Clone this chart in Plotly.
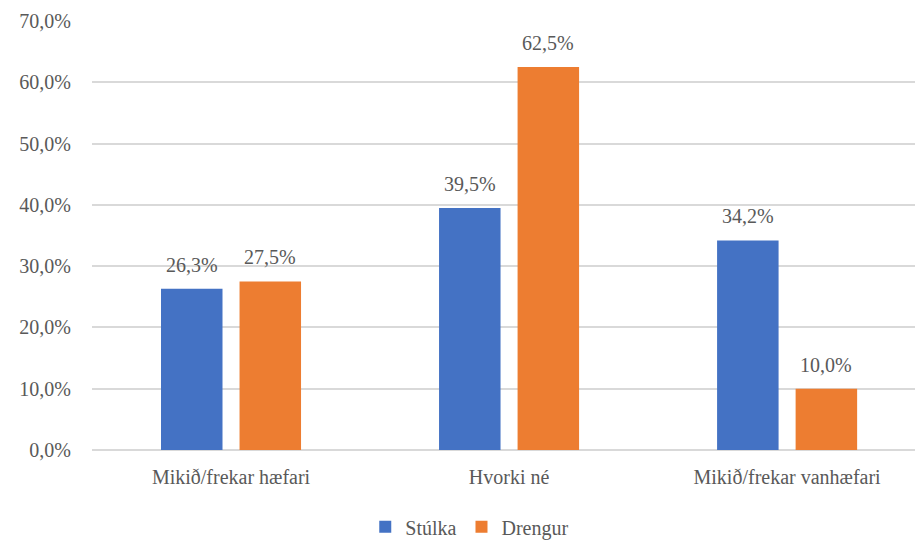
import plotly.graph_objects as go

categories = ["Mikið/frekar hæfari", "Hvorki né", "Mikið/frekar vanhæfari"]
stulka = [26.3, 39.5, 34.2]
drengur = [27.5, 62.5, 10.0]
tick_vals = [0, 10, 20, 30, 40, 50, 60, 70]
tick_text = ["0,0%", "10,0%", "20,0%", "30,0%", "40,0%", "50,0%", "60,0%", "70,0%"]

FONT = "Liberation Serif, serif"
TXT = "#595959"
BARGAP = 0.435
SLOT = (1 - BARGAP) / 2

fig = go.Figure()
series = [("Stúlka", stulka, "#4472C4", -1), ("Drengur", drengur, "#ED7D31", 1)]
for name, vals, color, side in series:
    fig.add_trace(go.Bar(
        name=name, x=list(range(len(categories))), y=vals,
        marker=dict(color=color, line=dict(width=0)),
    ))
    # value labels sit a little above each bar
    for i, v in enumerate(vals):
        fig.add_annotation(
            x=i + side * SLOT / 2, y=v, xref="x", yref="y",
            text=f"{v:.1f}".replace(".", ",") + "%", showarrow=False,
            yanchor="middle", yshift=24,
            font=dict(family=FONT, size=20, color=TXT),
        )

fig.update_layout(
    width=915, height=542,
    margin=dict(l=92, r=0, t=21, b=92, autoexpand=False),
    paper_bgcolor="white", plot_bgcolor="white",
    barmode="group", bargap=BARGAP, bargroupgap=0.217,
    font=dict(family=FONT, size=20, color=TXT),
    xaxis=dict(
        range=[-0.5, 2.46], tickmode="array",
        tickvals=list(range(len(categories))), ticktext=categories,
        showgrid=False, zeroline=False, showline=False, ticks="",
        tickfont=dict(family=FONT, size=20, color=TXT),
        ticklabelstandoff=13,
    ),
    yaxis=dict(
        range=[0, 70], tickmode="array", tickvals=tick_vals, ticktext=tick_text,
        showgrid=True, gridcolor="#D9D9D9", gridwidth=1.5,
        zeroline=True, zerolinecolor="#D9D9D9", zerolinewidth=1.5,
        showline=False, ticks="",
        tickfont=dict(family=FONT, size=20, color=TXT),
        ticklabelstandoff=20,
    ),
    legend=dict(
        orientation="h", xanchor="center", x=0.459,
        yref="container", yanchor="middle", y=0.028,
        font=dict(family=FONT, size=20, color=TXT),
        itemwidth=30, traceorder="normal",
    ),
    showlegend=True,
)

fig.write_html("out.html")
